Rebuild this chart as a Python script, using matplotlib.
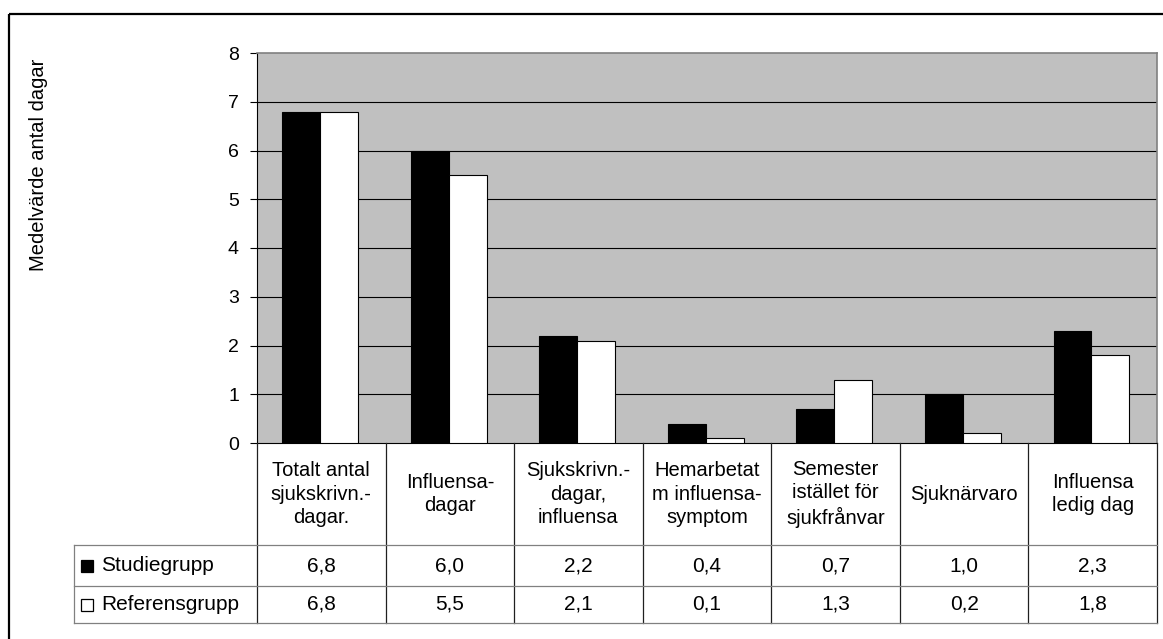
import numpy as np
import matplotlib.pyplot as plt
from matplotlib.patches import Rectangle

plt.rcParams['font.family'] = ['Liberation Sans', 'DejaVu Sans']

categories = [
    "Totalt antal\nsjukskrivn.-\ndagar.",
    "Influensa-\ndagar",
    "Sjukskrivn.-\ndagar,\ninfluensa",
    "Hemarbetat\nm influensa-\nsymptom",
    "Semester\nistället för\nsjukfrånvar",
    "Sjuknärvaro",
    "Influensa\nledig dag",
]
studie = [6.8, 6.0, 2.2, 0.4, 0.7, 1.0, 2.3]
referens = [6.8, 5.5, 2.1, 0.1, 1.3, 0.2, 1.8]
series_names = ["Studiegrupp", "Referensgrupp"]
yticks = [0, 1, 2, 3, 4, 5, 6, 7, 8]

W, H = 1163, 639
# layout in pixels
PL, PR, PT, PB = 257, 1157, 53, 443
TAB_L = 74
ROW_Y = [PB, 545, 586, 623]

fig = plt.figure(figsize=(W / 100, H / 100), dpi=100)
fig.patch.set_facecolor('white')

ax = fig.add_axes([PL / W, 1 - PB / H, (PR - PL) / W, (PB - PT) / H])
ax.set_facecolor('#c0c0c0')
n = len(categories)
x = np.arange(n)
bw = 0.295
ax.bar(x - bw / 2 - 0.01, studie, bw, color='black', edgecolor='black', linewidth=0.8, zorder=3)
ax.bar(x + bw / 2 - 0.01, referens, bw, color='white', edgecolor='black', linewidth=0.8, zorder=3)

ax.set_xlim(-0.5, n - 0.5)
ax.set_ylim(0, 8)
ax.set_yticks(yticks)
ax.set_xticks([])
for v in yticks[1:-1]:
    ax.axhline(v, color='black', linewidth=0.8, zorder=1)
ax.tick_params(axis='y', length=5, width=0.8, pad=8, labelsize=14)
for side in ['top', 'right']:
    ax.spines[side].set_color('#808080')
    ax.spines[side].set_linewidth(1.2)
for side in ['left', 'bottom']:
    ax.spines[side].set_color('black')
    ax.spines[side].set_linewidth(0.8)

fig.text(39 / W, 1 - 165 / H, "Medelvärde antal dagar", rotation=90,
         ha='center', va='center', fontsize=14.5)

# data table under the plot, drawn in pixel coordinates
tab = fig.add_axes([0, 0, 1, 1])
tab.set_xlim(0, W)
tab.set_ylim(H, 0)
tab.axis('off')
tab.patch.set_alpha(0)

col_w = (PR - PL) / n
col_x = [PL + k * col_w for k in range(n + 1)]

for cx in col_x:
    tab.plot([cx, cx], [ROW_Y[0], ROW_Y[-1]], color='#202020', linewidth=0.9)
tab.plot([TAB_L, TAB_L], [ROW_Y[1], ROW_Y[-1]], color='#808080', linewidth=0.9)
for ry in ROW_Y[1:]:
    tab.plot([TAB_L, PR], [ry, ry], color='#808080', linewidth=0.9)

for k, lab in enumerate(categories):
    cx = (col_x[k] + col_x[k + 1]) / 2
    tab.text(cx, (ROW_Y[0] + ROW_Y[1]) / 2, lab, ha='center', va='center',
             fontsize=14.5, linespacing=1.3)

for r, (name, vals, fc) in enumerate(zip(series_names, [studie, referens], ['black', 'white'])):
    cy = (ROW_Y[r + 1] + ROW_Y[r + 2]) / 2
    tab.add_patch(Rectangle((81, cy - 6), 12, 12, facecolor=fc, edgecolor='black', linewidth=0.9))
    tab.text(101, cy, name, ha='left', va='center', fontsize=15)
    for k, v in enumerate(vals):
        cx = (col_x[k] + col_x[k + 1]) / 2
        tab.text(cx, cy, f"{v:.1f}".replace('.', ','), ha='center', va='center', fontsize=15)

# outer chart frame (runs off the right and bottom edges)
tab.add_patch(Rectangle((9, 14), W + 20, H + 20, facecolor='none', edgecolor='black', linewidth=1.6))

fig.savefig('out.png', dpi=100)
